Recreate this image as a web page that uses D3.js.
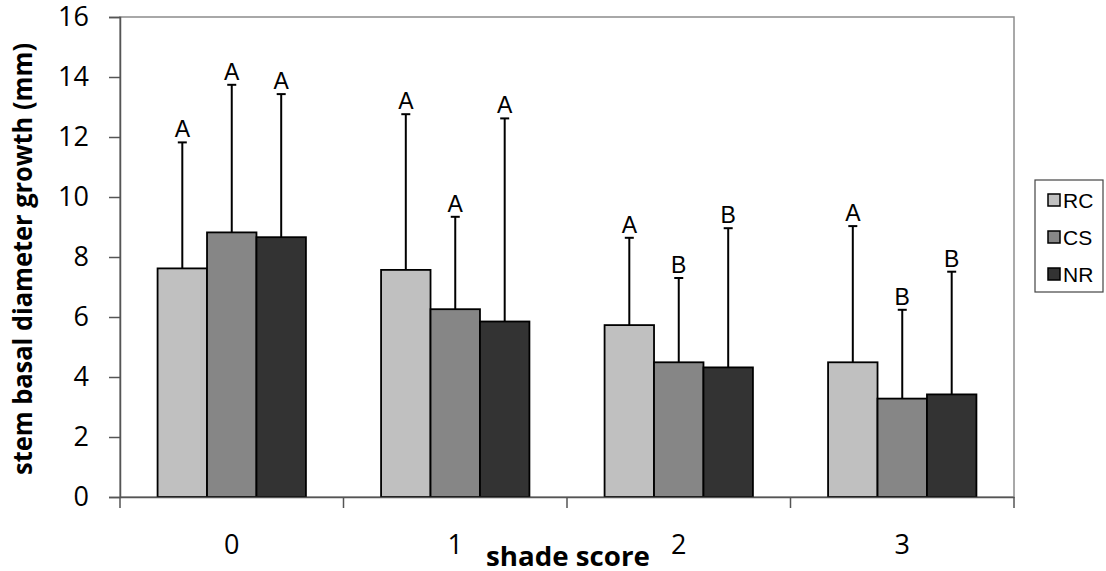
<!DOCTYPE html>
<html>
<head>
<meta charset="utf-8">
<script src="https://cdn.jsdelivr.net/npm/d3@7"></script>
<style>
  body { margin: 0; background: #fff; }
  svg { display: block; }
</style>
</head>
<body>
<svg id="chart" width="1106" height="571"></svg>
<script>
// shade score categories and the three treatments
const shadeScores = ['0', '1', '2', '3'];
const series = ['RC', 'CS', 'NR'];
const seriesColors = ['#c0c0c0', '#868686', '#333333'];

// mean growth (mm) per shade score
const rcMeans = [7.62, 7.57, 5.73, 4.49];
const csMeans = [8.82, 6.26, 4.49, 3.28];
const nrMeans = [8.66, 5.85, 4.32, 3.42];

// upper error (sd)
const rcErr = [4.20, 5.19, 2.91, 4.54];
const csErr = [4.92, 3.08, 2.81, 2.96];
const nrErr = [4.77, 6.77, 4.64, 4.09];

// significance letters
const rcLetters = ['A', 'A', 'A', 'A'];
const csLetters = ['A', 'A', 'B', 'B'];
const nrLetters = ['A', 'A', 'B', 'B'];

const yTicks = [0, 2, 4, 6, 8, 10, 12, 14, 16];

const means = [rcMeans, csMeans, nrMeans];
const errs = [rcErr, csErr, nrErr];
const letters = [rcLetters, csLetters, nrLetters];

const plotLeft = 120, plotRight = 1014, plotTop = 17, plotBottom = 497;

const svg = d3.select('#chart');

const x0 = d3.scaleBand().domain(shadeScores).range([plotLeft, plotRight]).padding(0);
const x1 = d3.scaleBand().domain(series).range([0, x0.bandwidth()])
  .paddingInner(0).paddingOuter(0.76);
const y = d3.scaleLinear().domain([0, 16]).range([plotBottom, plotTop]);

// plot area frame
svg.append('rect')
  .attr('x', plotLeft).attr('y', plotTop)
  .attr('width', plotRight - plotLeft).attr('height', plotBottom - plotTop)
  .attr('fill', 'none').attr('stroke', '#8c8c8c').attr('stroke-width', 1.5);

// flatten data
const rows = [];
shadeScores.forEach((s, i) => {
  series.forEach((k, j) => {
    rows.push({ score: s, key: k, idx: j, mean: means[j][i], err: errs[j][i], letter: letters[j][i] });
  });
});

const cx = d => x0(d.score) + x1(d.key) + x1.bandwidth() / 2;
const groups = svg.append('g');

groups.selectAll('line.err').data(rows).join('line')
  .attr('class', 'err')
  .attr('x1', cx).attr('x2', cx)
  .attr('y1', d => y(d.mean))
  .attr('y2', d => y(d.mean + d.err))
  .attr('stroke', '#000').attr('stroke-width', 2);

groups.selectAll('line.cap').data(rows).join('line')
  .attr('class', 'cap')
  .attr('x1', d => cx(d) - 4.5)
  .attr('x2', d => cx(d) + 4.5)
  .attr('y1', d => y(d.mean + d.err))
  .attr('y2', d => y(d.mean + d.err))
  .attr('stroke', '#000').attr('stroke-width', 2);

groups.selectAll('rect.bar').data(rows).join('rect')
  .attr('class', 'bar')
  .attr('x', d => x0(d.score) + x1(d.key))
  .attr('y', d => y(d.mean))
  .attr('width', x1.bandwidth())
  .attr('height', d => y(0) - y(d.mean))
  .attr('fill', d => seriesColors[d.idx])
  .attr('stroke', '#000').attr('stroke-width', 1.8);

groups.selectAll('text.letter').data(rows).join('text')
  .attr('class', 'letter')
  .attr('x', cx)
  .attr('y', d => y(d.mean + d.err) - 5)
  .attr('text-anchor', 'middle')
  .attr('font-family', 'Liberation Sans, Arial, sans-serif')
  .attr('font-size', 23)
  .attr('fill', '#000')
  .text(d => d.letter);

// y axis
const yAxis = d3.axisLeft(y).tickValues(yTicks).tickSize(11).tickPadding(20);
const gy = svg.append('g').attr('transform', `translate(${plotLeft},0)`).call(yAxis);
gy.select('.domain').attr('stroke', '#555').attr('stroke-width', 1.5);
gy.selectAll('.tick line').attr('stroke', '#555').attr('stroke-width', 1.5);
gy.selectAll('.tick text')
  .attr('font-family', 'Open Sans, sans-serif')
  .attr('font-size', 27)
  .attr('fill', '#000');

// x axis (ticks on category boundaries)
const xAxis = d3.axisBottom(x0).tickSize(0).tickPadding(38);
const gx = svg.append('g').attr('transform', `translate(0,${plotBottom})`).call(xAxis);
gx.select('.domain').attr('stroke', '#555').attr('stroke-width', 1.5);
gx.selectAll('.tick text')
  .attr('font-family', 'Open Sans, sans-serif')
  .attr('font-size', 27)
  .attr('fill', '#000');
const bounds = shadeScores.map(s => x0(s)).concat([plotRight]);
gx.selectAll('line.bound').data(bounds).join('line')
  .attr('class', 'bound')
  .attr('x1', d => d).attr('x2', d => d)
  .attr('y1', 0).attr('y2', 11)
  .attr('stroke', '#555').attr('stroke-width', 1.5);

// axis titles
svg.append('text')
  .attr('x', 568).attr('y', 566)
  .attr('text-anchor', 'middle')
  .attr('font-family', 'Open Sans, sans-serif')
  .attr('font-weight', 'bold')
  .attr('font-size', 27)
  .attr('textLength', 164).attr('lengthAdjust', 'spacingAndGlyphs')
  .text('shade score');

svg.append('text')
  .attr('transform', 'translate(32,259) rotate(-90)')
  .attr('text-anchor', 'middle')
  .attr('font-family', 'Open Sans, sans-serif')
  .attr('font-weight', 'bold')
  .attr('font-size', 27)
  .attr('textLength', 432).attr('lengthAdjust', 'spacingAndGlyphs')
  .text('stem basal diameter growth (mm)');

// legend
const legend = svg.append('g');
legend.append('rect')
  .attr('x', 1035).attr('y', 180).attr('width', 68).attr('height', 112)
  .attr('fill', '#fff').attr('stroke', '#444').attr('stroke-width', 1.2);
const items = legend.selectAll('g.item').data(series).join('g')
  .attr('class', 'item')
  .attr('transform', (d, i) => `translate(1048,${200 + i * 37})`);
items.append('rect')
  .attr('x', 0).attr('y', -6).attr('width', 12).attr('height', 12)
  .attr('fill', (d, i) => seriesColors[i])
  .attr('stroke', '#000').attr('stroke-width', 1.5);
items.append('text')
  .attr('x', 15).attr('y', 7.5)
  .attr('font-family', 'Liberation Sans, Arial, sans-serif')
  .attr('font-size', 21)
  .attr('fill', '#000')
  .text(d => d);
</script>
</body>
</html>
